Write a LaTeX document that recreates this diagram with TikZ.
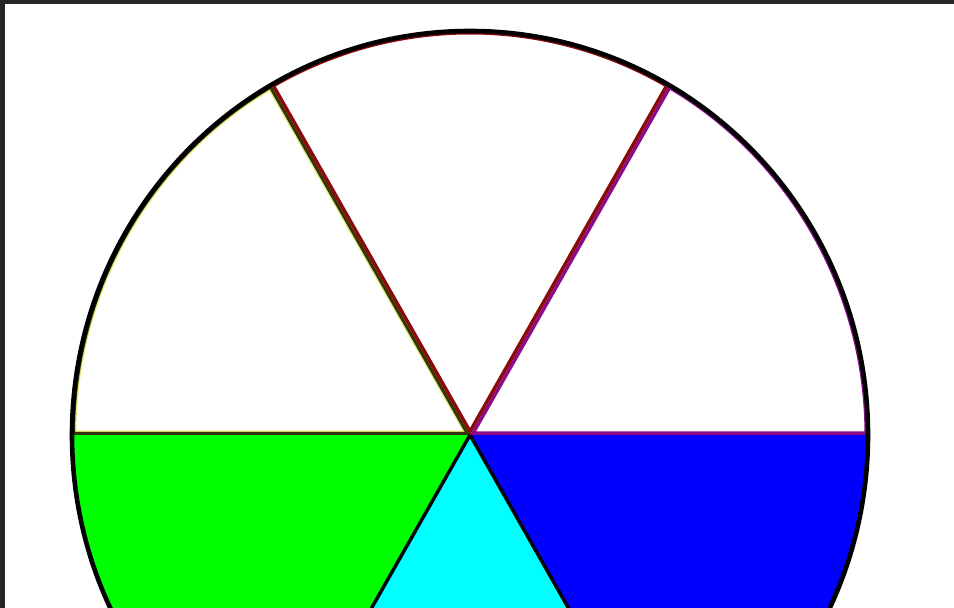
\documentclass[tikz,border=0pt]{standalone}
\usetikzlibrary{calc}
\definecolor{Frame}{HTML}{262626}
\definecolor{Ink}{HTML}{000000}
\definecolor{RedRim}{HTML}{8B0A0A}
\definecolor{PurpleRim}{HTML}{8A0C8A}
\definecolor{YellowRim}{HTML}{34340A}
\definecolor{YellowTint}{HTML}{E8E870}
\definecolor{Lime}{HTML}{00FF00}
\definecolor{Aqua}{HTML}{00FFFF}
\definecolor{Deep}{HTML}{0000FF}
\newcommand\wedgepath[2]{(o) -- ++(#1:398 and 404)
  arc[start angle=#1,end angle=#2,x radius=398,y radius=404] -- cycle}
\tikzset{
  sector/.style={line width=7pt,line join=round},
  spoke/.style={draw=Ink,line width=3.4pt},
  rim/.style={draw=Ink,line width=4.6pt},
  frame/.style={fill=Frame,draw=none}
}
\begin{document}
\begin{tikzpicture}[x=1pt,y=1pt]
  \useasboundingbox (0,0) rectangle (954,608);
  \clip (0,0) rectangle (954,608);
  \fill[white] (0,0) rectangle (954,608);
  \coordinate (o) at (470,173);
  % coloured lower half
  \foreach \a/\b/\c in {180/240/Lime,240/300/Aqua,300/360/Deep}
    \fill[\c] \wedgepath{\a}{\b};
  % empty upper half, each outline kept inside its own wedge
  \begin{scope}
    \clip \wedgepath{120}{180};
    \draw[sector,draw=YellowTint,line width=8.5pt] \wedgepath{120}{180};
    \draw[sector,draw=YellowRim,line width=6pt] \wedgepath{120}{180};
  \end{scope}
  \foreach \a/\b/\c in {0/60/PurpleRim,60/120/RedRim}{
    \begin{scope}
      \clip \wedgepath{\a}{\b};
      \draw[sector,draw=\c] \wedgepath{\a}{\b};
    \end{scope}
  }
  \draw[spoke] (o) -- ++(240:398 and 404);
  \draw[spoke] (o) -- ++(300:398 and 404);
  \draw[rim] (o) ellipse[x radius=398,y radius=404];
  % screenshot frame
  \fill[frame] (0,604) rectangle (954,608);
  \fill[frame] (0,0) rectangle (5,608);
\end{tikzpicture}
\end{document}
